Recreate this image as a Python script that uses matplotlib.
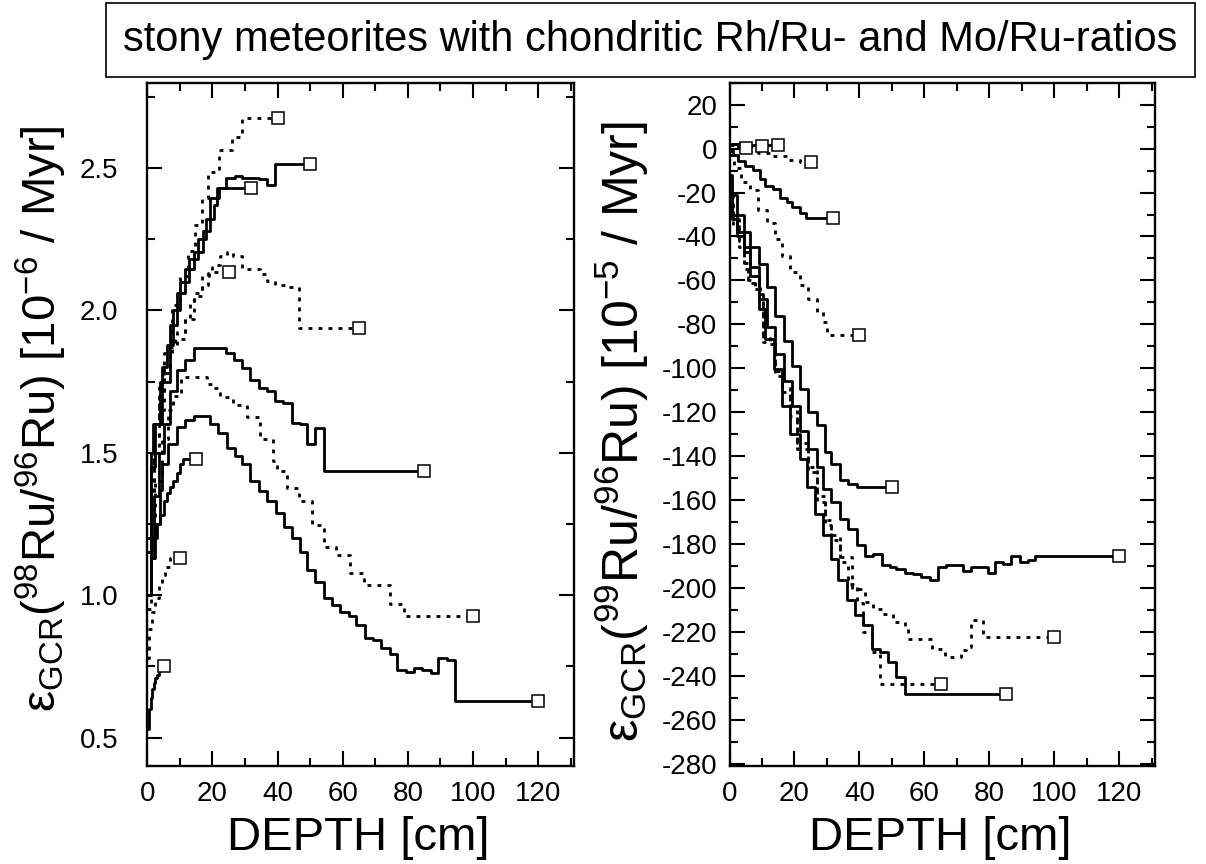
import numpy as np
import matplotlib.pyplot as plt
from matplotlib.patches import Rectangle
from matplotlib.ticker import MultipleLocator

plt.rcParams['font.family'] = ['Liberation Sans', 'DejaVu Sans']
plt.rcParams['mathtext.fontset'] = 'custom'
plt.rcParams['mathtext.rm'] = 'Liberation Sans'
plt.rcParams['mathtext.it'] = 'Liberation Sans:italic'
plt.rcParams['axes.unicode_minus'] = False

title = "stony meteorites with chondritic Rh/Ru- and Mo/Ru-ratios"
xlabel = "DEPTH [cm]"
ylabel_98 = "ε$_{\\mathrm{GCR}}$($^{98}$Ru/$^{96}$Ru) [10$^{-6}$ / Myr]"
ylabel_99 = "ε$_{\\mathrm{GCR}}$($^{99}$Ru/$^{96}$Ru) [10$^{-5}$ / Myr]"

# --- 98Ru/96Ru, one step profile per meteorite radius (depth cm, value) ---
ru98_r5_d = [0, 0.5, 1, 1.5, 2, 2.5, 3, 3.5, 4, 5]
ru98_r5_v = [0.53, 0.60, 0.64, 0.67, 0.69, 0.71, 0.72, 0.735, 0.75, 0.75]
ru98_r10_d = [0, 0.5, 1.5, 2.5, 3.5, 4.5, 5.5, 7, 10]
ru98_r10_v = [0.78, 0.88, 0.94, 0.99, 1.04, 1.07, 1.10, 1.13, 1.13]
ru98_r15_d = [0, 1, 2, 3, 4, 5, 6, 7, 8, 9, 10, 11, 15]
ru98_r15_v = [1.0, 1.13, 1.2, 1.25, 1.28, 1.33, 1.36, 1.38, 1.40, 1.43, 1.46, 1.48, 1.48]
ru98_r25_d = [0, 1, 2, 3.5, 5, 7, 8.5, 11.6, 14.2, 16.7, 19, 25]
ru98_r25_v = [1.0, 1.35, 1.55, 1.7, 1.8, 1.88, 1.90, 1.97, 2.06, 2.12, 2.135, 2.135]
ru98_r32_d = [0, 1.3, 2.5, 4.5, 6, 8, 10, 12.8, 15.5, 18, 20.5, 21.5, 32]
ru98_r32_v = [1.15, 1.45, 1.6, 1.8, 1.88, 2.0, 2.1, 2.18, 2.25, 2.32, 2.37, 2.43, 2.43]
ru98_r40_d = [0, 1, 2, 3.5, 5, 7.5, 10, 12.5, 14.7, 16.7, 18.8, 21.9, 26, 29, 40]
ru98_r40_v = [1.2, 1.45, 1.6, 1.75, 1.85, 2.02, 2.12, 2.21, 2.30, 2.396, 2.486, 2.565, 2.61, 2.675, 2.675]
ru98_r50_d = [0, 1, 1.85, 3.9, 7, 9, 11.6, 14.2, 17.2, 19.3, 21.9, 24.2, 27, 29, 34.2, 36.7, 39.3, 50]
ru98_r50_v = [1.2, 1.5, 1.6, 1.75, 1.95, 2.06, 2.146, 2.204, 2.28, 2.396, 2.431, 2.466, 2.474,
              2.466, 2.46, 2.44, 2.516, 2.516]
ru98_r65_d = [0, 1, 2, 3.5, 5, 7, 9, 11.6, 13.1, 14.2, 16.7, 18.8, 19.8, 22.4, 24.4, 26.4, 29,
              34.6, 36.7, 39.3, 42.4, 46.5, 65]
ru98_r65_v = [1.0, 1.3, 1.5, 1.65, 1.78, 1.87, 1.925, 1.97, 2.03, 2.05, 2.09, 2.13, 2.16, 2.19,
              2.205, 2.193, 2.146, 2.128, 2.105, 2.09, 2.082, 1.937, 1.937]
ru98_r85_d = [0, 1, 2, 3.5, 5, 7, 9, 11.6, 14.2, 24.2, 26.5, 29, 31.6, 34.2, 36.7, 39.3, 41.8,
              44.4, 46.8, 49, 51.6, 54.2, 85]
ru98_r85_v = [1.0, 1.2, 1.35, 1.5, 1.6, 1.716, 1.791, 1.827, 1.867, 1.849, 1.826, 1.797, 1.757,
              1.727, 1.718, 1.681, 1.675, 1.605, 1.60, 1.53, 1.588, 1.437, 1.437]
ru98_r100_d = [0, 1, 2.5, 4.4, 6.4, 8, 10.5, 18.3, 19.8, 22.4, 26.4, 30.6, 34.5, 38.6, 39.8,
               42.9, 46.5, 50.6, 54.4, 58, 62.4, 66.5, 74.5, 78.8, 100]
ru98_r100_v = [0.95, 1.2, 1.4, 1.55, 1.65, 1.70, 1.768, 1.74, 1.727, 1.695, 1.667, 1.625, 1.55,
               1.47, 1.436, 1.378, 1.332, 1.245, 1.169, 1.14, 1.078, 1.035, 0.968, 0.927, 0.927]
ru98_r120_d = [0, 1.2, 2.3, 3.9, 4.4, 6.4, 9, 11.6, 14.2, 19.3, 21.8, 24.4, 27, 29, 31.6, 34.2,
               36.8, 39.4, 42, 44.5, 47, 49, 51.6, 54.2, 56.7, 59.3, 61.8, 64.2, 66.8, 69.4,
               71.9, 74.5, 76.7, 79.3, 81.8, 84.4, 87, 89.3, 92.1, 94.4, 120]
ru98_r120_v = [1.0, 1.13, 1.25, 1.37, 1.46, 1.53, 1.59, 1.617, 1.628, 1.60, 1.57, 1.518, 1.489,
               1.46, 1.40, 1.367, 1.33, 1.29, 1.24, 1.20, 1.151, 1.087, 1.047, 0.989, 0.965,
               0.942, 0.927, 0.895, 0.851, 0.843, 0.816, 0.794, 0.738, 0.729, 0.746, 0.736,
               0.727, 0.781, 0.771, 0.628, 0.628]

# --- 99Ru/96Ru ---
ru99_r5_d = [0, 2.5, 5]
ru99_r5_v = [2, 0.5, 0.5]
ru99_r10_d = [0, 5, 10]
ru99_r10_v = [1.5, 1, 1]
ru99_r15_d = [0, 5, 15]
ru99_r15_v = [2, 1.5, 1.5]
ru99_r25_d = [0, 1.2, 5, 8.9, 13.5, 17.6, 21.7, 25]
ru99_r25_v = [0, -0.3, -1, -1.8, -3.3, -5.2, -6, -6]
ru99_r32_d = [0, 1.2, 2.7, 4.8, 7.3, 9.4, 10.9, 13.5, 15.5, 17.6, 19.1, 21.7, 23.5, 32]
ru99_r32_v = [-1, -3, -5.6, -7.9, -9.7, -13.9, -17, -18.5, -22.3, -24.5, -26.8, -29.4, -31.6, -31.6]
ru99_r40_d = [0, 1.3, 3.5, 6.3, 8.9, 11.4, 14, 16.1, 18.6, 21.7, 24.2, 26.8, 28.9, 30, 40]
ru99_r40_v = [-3, -9, -15, -19, -28, -34, -41, -49, -56, -62, -68.5, -74.5, -79, -85, -85]
ru99_r50_d = [0, 0.8, 2.4, 4.4, 6.4, 9, 11.5, 14.1, 16.7, 19.2, 21.8, 24.2, 26.8, 29.4, 31.4,
              34, 36.5, 39.1, 50]
ru99_r50_v = [-12, -21, -30, -38, -45, -52.6, -63.2, -76, -87.4, -98.8, -109.4, -120, -126,
              -138.2, -143.5, -151, -152.6, -154, -154]
ru99_r65_d = [0, 1, 3, 4.4, 5.8, 7.9, 9.5, 10.2, 12.5, 14, 16.1, 18.6, 20.7, 24.2, 26.8, 29.4,
              31.4, 34, 36.5, 39.1, 41.2, 43.8, 46.3, 65]
ru99_r65_v = [-25, -35, -45, -55, -61, -64, -66, -88, -89, -103.3, -111, -121.5, -136.7, -147.3,
              -160.9, -171.5, -178.3, -188.2, -198, -207, -220, -229, -243.5, -243.5]
ru99_r85_d = [0, 0.8, 2.4, 4.4, 6.4, 9, 11, 13.6, 16.1, 18.6, 21.7, 23.8, 26.3, 28.9, 31.4, 33.5,
              36.1, 38.6, 41.2, 43.8, 46.3, 48.9, 51.4, 54, 85]
ru99_r85_v = [-25, -32, -40, -47, -57.9, -73, -86.7, -100.3, -117, -129.8, -141.2, -154, -166.2,
              -176, -186.7, -196.5, -205.6, -212.4, -217, -227.6, -229, -233.6, -240.5, -248, -248]
ru99_r100_d = [0, 1, 3, 4.4, 5.8, 7.9, 9.5, 10.2, 12.5, 14, 16.1, 18.6, 20.7, 24.2, 26.8, 29.4,
               31.4, 34, 37.6, 41.7, 44.2, 46.8, 50.4, 54, 55, 62.2, 66.3, 68.9, 71.4, 72.8,
               74.5, 78.1, 100]
ru99_r100_v = [-22, -32, -42, -52, -60, -63, -65, -86, -88, -101, -109, -119, -134, -145, -158,
               -169, -176, -186, -200.3, -206.4, -209.4, -211.7, -215.5, -218.5, -223, -227.6,
               -231.4, -231.4, -228.3, -226.8, -214.7, -222.3, -222.3]
ru99_r120_d = [0, 0.8, 2.4, 4.4, 6.4, 9, 11.5, 14.1, 16.7, 19.1, 21.7, 24.2, 26.8, 28.9, 31.4,
               34, 36.5, 39.1, 41.7, 44.2, 46.8, 49.4, 51.4, 54, 56.5, 59.1, 61.7, 64.2, 66.8,
               69.3, 71.9, 74.5, 77, 79.6, 81.7, 84.2, 86.8, 89.4, 91.9, 94, 120]
ru99_r120_v = [-20, -30, -38, -45, -54.1, -68.5, -81.4, -93.5, -105.6, -117, -128.3, -136.7,
               -145, -154.8, -160.9, -168.5, -173, -180.6, -185.2, -184.4, -189.4, -190.5,
               -191.2, -193, -193.5, -195, -196.5, -190.2, -189.5, -189.5, -192.3, -190.5,
               -190.5, -193, -188.2, -189, -185.2, -188.2, -187.4, -185.2, -185.2]

left_profiles = [(ru98_r5_d, ru98_r5_v), (ru98_r10_d, ru98_r10_v), (ru98_r15_d, ru98_r15_v),
                 (ru98_r25_d, ru98_r25_v), (ru98_r32_d, ru98_r32_v), (ru98_r40_d, ru98_r40_v),
                 (ru98_r50_d, ru98_r50_v), (ru98_r65_d, ru98_r65_v), (ru98_r85_d, ru98_r85_v),
                 (ru98_r100_d, ru98_r100_v), (ru98_r120_d, ru98_r120_v)]
right_profiles = [(ru99_r5_d, ru99_r5_v), (ru99_r10_d, ru99_r10_v), (ru99_r15_d, ru99_r15_v),
                  (ru99_r25_d, ru99_r25_v), (ru99_r32_d, ru99_r32_v), (ru99_r40_d, ru99_r40_v),
                  (ru99_r50_d, ru99_r50_v), (ru99_r65_d, ru99_r65_v), (ru99_r85_d, ru99_r85_v),
                  (ru99_r100_d, ru99_r100_v), (ru99_r120_d, ru99_r120_v)]

DOTTED = (0, (1.4, 2.2))


def draw_profiles(ax, profiles):
    # radii alternate solid / dotted
    for i, (d, v) in enumerate(profiles):
        ls = '-' if i % 2 == 0 else DOTTED
        ax.step(d, v, where='post', color='black', lw=2.0, linestyle=ls, zorder=2)
        ax.plot(d[-1], v[-1], 's', ms=9, mfc='white', mec='black', mew=1.1, zorder=3)


def style_axes(ax, ymajor, yminor, ypad):
    ax.set_xlim(0, 131)
    ax.xaxis.set_major_locator(MultipleLocator(20))
    ax.xaxis.set_minor_locator(MultipleLocator(10))
    ax.yaxis.set_major_locator(MultipleLocator(ymajor))
    ax.yaxis.set_minor_locator(MultipleLocator(yminor))
    ax.tick_params(which='both', direction='in', top=True, right=True, width=1.5)
    ax.tick_params(which='major', length=10.5, labelsize=20)
    ax.tick_params(which='minor', length=6)
    ax.tick_params(axis='x', which='major', pad=11)
    ax.tick_params(axis='y', which='major', pad=ypad)
    for s in ax.spines.values():
        s.set_linewidth(1.7)


fig = plt.figure(figsize=(12.06, 8.64), dpi=100)
ax1 = fig.add_axes([0.1221, 0.1134, 0.3538, 0.7909])
ax2 = fig.add_axes([0.6049, 0.1134, 0.3528, 0.7909])

draw_profiles(ax1, left_profiles)
style_axes(ax1, 0.5, 0.25, 21)
ax1.set_ylim(0.4, 2.8)
ax1.yaxis.set_major_formatter(plt.FormatStrFormatter('%.1f'))

draw_profiles(ax2, right_profiles)
style_axes(ax2, 20, 10, 9)
ax2.set_ylim(-281, 30)

# title box
fig.patches.append(Rectangle((0.0879, 0.9109), 0.903, 0.0856, transform=fig.transFigure,
                             fill=False, lw=1.2, color='black'))
fig.text(0.5394, 0.9537, title, ha='center', va='center', fontsize=30)

fig.text(0.297, 0.030, xlabel, ha='center', va='center', fontsize=34)
fig.text(0.780, 0.030, xlabel, ha='center', va='center', fontsize=34)
fig.text(0.034, 0.515, ylabel_98, ha='center', va='center', rotation=90, fontsize=34)
fig.text(0.516, 0.500, ylabel_99, ha='center', va='center', rotation=90, fontsize=36)

fig.savefig('out.png', dpi=100)
